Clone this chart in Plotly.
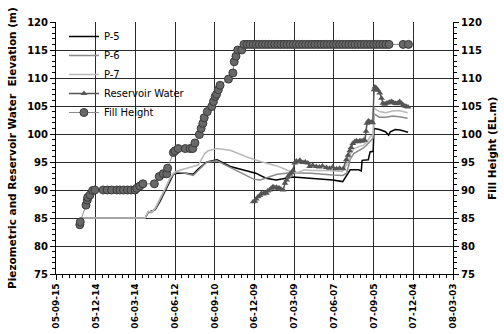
import plotly.graph_objects as go

# ---------------- data ----------------
tick_dates = ["2005-09-15", "2005-12-14", "2006-03-14", "2006-06-12", "2006-09-10", "2006-12-09",
              "2007-03-09", "2007-06-07", "2007-09-05", "2007-12-04", "2008-03-03"]
tick_labels = ["05-09-15", "05-12-14", "06-03-14", "06-06-12", "06-09-10", "06-12-09",
               "07-03-09", "07-06-07", "07-09-05", "07-12-04", "08-03-03"]
y_ticks = [75, 80, 85, 90, 95, 100, 105, 110, 115, 120]

p5_dates = ["2005-11-08", "2006-04-05", "2006-04-12", "2006-04-20", "2006-04-28", "2006-05-09",
            "2006-05-20", "2006-06-01", "2006-06-08", "2006-06-16", "2006-07-05", "2006-07-23",
            "2006-08-04", "2006-08-23", "2006-09-15", "2006-10-15", "2006-11-14", "2006-12-12",
            "2007-01-04", "2007-01-27", "2007-03-07", "2007-04-20", "2007-06-04", "2007-06-27",
            "2007-07-06", "2007-07-14", "2007-08-02", "2007-08-08", "2007-08-10", "2007-08-24",
            "2007-08-28", "2007-09-04", "2007-09-06", "2007-09-18", "2007-10-02", "2007-10-09",
            "2007-10-13", "2007-10-24", "2007-11-04", "2007-11-16", "2007-11-22"]
p5_values = [85.0, 85.0, 86.0, 86.2, 86.5, 88.0,
             89.8, 91.8, 92.8, 93.0, 93.0, 92.8,
             93.8, 95.0, 95.4, 94.2, 93.6, 93.0,
             92.1, 91.8, 92.3, 92.1, 91.8, 91.5,
             92.5, 93.6, 93.6, 93.4, 95.3, 95.4,
             96.8, 96.9, 101.0, 100.8, 100.4, 99.8,
             100.4, 100.8, 100.7, 100.4, 100.3]

p6_dates = ["2005-11-08", "2006-04-05", "2006-04-12", "2006-04-20", "2006-04-28", "2006-05-09",
            "2006-05-20", "2006-06-01", "2006-06-08", "2006-06-16", "2006-07-05", "2006-07-23",
            "2006-08-04", "2006-08-23", "2006-09-15", "2006-10-15", "2006-11-14", "2006-12-08",
            "2006-12-22", "2007-01-12", "2007-01-29", "2007-03-01", "2007-04-16", "2007-06-04",
            "2007-06-27", "2007-07-06", "2007-07-14", "2007-07-22", "2007-08-02", "2007-08-13",
            "2007-08-20", "2007-08-28", "2007-09-04", "2007-09-06", "2007-09-18", "2007-10-03",
            "2007-10-18", "2007-11-02", "2007-11-21"]
p6_values = [85.0, 85.0, 86.0, 86.0, 86.6, 88.2,
             90.0, 92.0, 92.8, 93.2, 93.0, 92.6,
             93.6, 95.0, 95.2, 94.0, 92.8, 91.9,
             91.8, 92.3, 92.8, 93.1, 93.0, 92.7,
             92.6, 93.0, 95.5, 96.5, 97.0, 97.5,
             98.0, 98.8, 99.3, 103.6, 103.0, 103.0,
             103.2, 103.1, 102.8]

p7_dates = ["2005-11-08", "2006-04-05", "2006-04-12", "2006-04-20", "2006-04-28", "2006-05-09",
            "2006-05-20", "2006-06-01", "2006-06-08", "2006-06-16", "2006-07-08", "2006-07-23",
            "2006-08-04", "2006-08-18", "2006-08-26", "2006-09-15", "2006-10-15", "2006-11-22",
            "2006-12-22", "2007-01-29", "2007-03-01", "2007-03-16", "2007-04-01", "2007-04-16",
            "2007-05-25", "2007-06-26", "2007-07-06", "2007-07-14", "2007-07-22", "2007-08-02",
            "2007-08-13", "2007-08-20", "2007-08-28", "2007-09-04", "2007-09-06", "2007-09-08",
            "2007-09-18", "2007-10-03", "2007-10-18", "2007-11-02", "2007-11-21"]
p7_values = [85.0, 85.0, 86.2, 86.1, 86.8, 88.4,
             90.2, 92.2, 93.0, 93.4, 93.8, 94.2,
             94.5, 96.5, 97.0, 97.4, 97.1, 95.9,
             95.1, 94.3, 93.3, 93.1, 93.6, 93.5,
             93.5, 93.3, 94.5, 96.3, 97.4, 97.7,
             98.0, 98.5, 99.5, 99.9, 104.8, 104.5,
             104.0, 103.8, 104.1, 104.2, 103.8]

res_dates = ["2006-12-06", "2006-12-10", "2006-12-13", "2006-12-17", "2006-12-21", "2006-12-25",
             "2006-12-29", "2007-01-01", "2007-01-05", "2007-01-08", "2007-01-12", "2007-01-16",
             "2007-01-20", "2007-01-24", "2007-01-28", "2007-02-01", "2007-02-04", "2007-02-08",
             "2007-02-12", "2007-02-16", "2007-02-20", "2007-02-23", "2007-02-27", "2007-03-03",
             "2007-03-06", "2007-03-10", "2007-03-14", "2007-03-18", "2007-03-22", "2007-03-29",
             "2007-04-03", "2007-04-09", "2007-04-13", "2007-04-20", "2007-04-28", "2007-05-05",
             "2007-05-12", "2007-05-21", "2007-05-28", "2007-06-04", "2007-06-13", "2007-06-20",
             "2007-06-28", "2007-07-05", "2007-07-09", "2007-07-13", "2007-07-16", "2007-07-20",
             "2007-07-24", "2007-07-28", "2007-08-01", "2007-08-05", "2007-08-09", "2007-08-13",
             "2007-08-16", "2007-08-19", "2007-08-21", "2007-08-24", "2007-08-27", "2007-08-31",
             "2007-09-03", "2007-09-06", "2007-09-08", "2007-09-11", "2007-09-15", "2007-09-19",
             "2007-09-23", "2007-09-26", "2007-09-30", "2007-10-04", "2007-10-08", "2007-10-12",
             "2007-10-16", "2007-10-20", "2007-10-24", "2007-10-27", "2007-10-31", "2007-11-03",
             "2007-11-07", "2007-11-11", "2007-11-15", "2007-11-18", "2007-11-22"]
res_values = [87.9, 88.0, 88.4, 88.8, 89.0, 89.4,
              89.3, 89.5, 89.4, 89.8, 90.0, 90.3,
              90.6, 90.4, 90.5, 90.3, 90.3, 90.1,
              90.0, 91.2, 91.8, 92.4, 92.8, 93.1,
              93.5, 94.8, 95.2, 95.0, 95.3, 94.9,
              95.0, 94.8, 94.2, 94.4, 94.2, 94.1,
              94.3, 94.0, 93.9, 94.1, 93.8, 93.9,
              93.8, 95.4, 96.2, 97.0, 97.6, 98.3,
              98.6, 98.8, 98.6, 98.8, 98.7, 98.9,
              98.9, 100.5, 101.9, 102.3, 102.2, 102.1,
              102.0, 107.9, 108.4, 108.2, 107.8, 107.3,
              106.4, 105.5, 105.3, 105.5, 105.6, 105.7,
              105.8, 105.6, 105.5, 105.4, 105.6, 105.8,
              105.5, 105.2, 105.0, 104.9, 104.8]

fill_dates = ["2005-11-08", "2005-11-09", "2005-11-22", "2005-11-25", "2005-11-26", "2005-12-01",
              "2005-12-07", "2005-12-12", "2005-12-31", "2006-01-09", "2006-01-19", "2006-01-31",
              "2006-02-07", "2006-02-15", "2006-02-24", "2006-03-04", "2006-03-13", "2006-03-17",
              "2006-03-24", "2006-03-31", "2006-04-26", "2006-05-07", "2006-05-16", "2006-05-24",
              "2006-05-26", "2006-06-08", "2006-06-12", "2006-06-19", "2006-07-05", "2006-07-16",
              "2006-07-22", "2006-07-27", "2006-08-06", "2006-08-10", "2006-08-14", "2006-08-17",
              "2006-08-24", "2006-09-03", "2006-09-07", "2006-09-11", "2006-09-14", "2006-09-18",
              "2006-09-22", "2006-10-11", "2006-10-21", "2006-10-24", "2006-10-28", "2006-11-01",
              "2006-11-10", "2006-11-15", "2006-11-22", "2006-11-29", "2006-12-06", "2006-12-13",
              "2006-12-20", "2006-12-27", "2007-01-03", "2007-01-10", "2007-01-17", "2007-01-24",
              "2007-01-31", "2007-02-07", "2007-02-14", "2007-02-21", "2007-02-28", "2007-03-07",
              "2007-03-14", "2007-03-21", "2007-03-28", "2007-04-04", "2007-04-11", "2007-04-18",
              "2007-04-25", "2007-05-02", "2007-05-09", "2007-05-16", "2007-05-23", "2007-05-30",
              "2007-06-06", "2007-06-13", "2007-06-20", "2007-06-27", "2007-07-04", "2007-07-11",
              "2007-07-18", "2007-07-25", "2007-08-01", "2007-08-08", "2007-08-15", "2007-08-22",
              "2007-08-29", "2007-09-05", "2007-09-12", "2007-09-19", "2007-09-26", "2007-10-03",
              "2007-10-10", "2007-11-11", "2007-11-23"]
fill_values = [83.8, 84.3, 87.3, 88.2, 88.7, 89.1,
               89.9, 90.0, 90.0, 90.0, 90.0, 90.0,
               90.0, 90.0, 90.0, 90.0, 90.0, 90.3,
               90.7, 91.1, 91.1, 92.4, 92.9, 92.9,
               93.9, 96.7, 97.0, 97.4, 97.4, 97.4,
               97.4, 98.4, 99.9, 101.0, 101.9, 102.9,
               104.0, 104.9, 105.8, 106.7, 107.1, 107.9,
               108.7, 109.8, 110.9, 112.9, 113.9, 115.0,
               115.0, 116.0, 116.0, 116.0, 116.0, 116.0,
               116.0, 116.0, 116.0, 116.0, 116.0, 116.0,
               116.0, 116.0, 116.0, 116.0, 116.0, 116.0,
               116.0, 116.0, 116.0, 116.0, 116.0, 116.0,
               116.0, 116.0, 116.0, 116.0, 116.0, 116.0,
               116.0, 116.0, 116.0, 116.0, 116.0, 116.0,
               116.0, 116.0, 116.0, 116.0, 116.0, 116.0,
               116.0, 116.0, 116.0, 116.0, 116.0, 116.0,
               116.0, 116.0, 116.0]

# ---------------- figure ----------------
fig = go.Figure()
fig.add_trace(go.Scatter(x=p5_dates, y=p5_values, name="P-5", mode="lines",
                         line=dict(color="#000000", width=1.5)))
fig.add_trace(go.Scatter(x=p6_dates, y=p6_values, name="P-6", mode="lines",
                         line=dict(color="#8a8a8a", width=1.5)))
fig.add_trace(go.Scatter(x=p7_dates, y=p7_values, name="P-7", mode="lines",
                         line=dict(color="#b8b8b8", width=1.5)))
fig.add_trace(go.Scatter(x=res_dates, y=res_values, name="Reservoir Water", mode="lines+markers",
                         line=dict(color="#555555", width=1.5),
                         marker=dict(symbol="triangle-up", size=6, color="#555555")))
fig.add_trace(go.Scatter(x=fill_dates, y=fill_values, name="Fill Height", mode="lines+markers",
                         yaxis="y2",
                         line=dict(color="#8a8a8a", width=1),
                         marker=dict(symbol="circle", size=8, color="#686868",
                                     line=dict(color="#3a3a3a", width=1))))

tick_font = dict(family="DejaVu Sans", size=10, color="#000000")
grid_col = "#2a2a2a"
y_text = ["<b>%d</b>" % v for v in y_ticks]

fig.update_layout(
    width=504, height=334,
    margin=dict(l=56, r=51, t=22, b=60, autoexpand=False),
    paper_bgcolor="white", plot_bgcolor="white",
    showlegend=True,
    legend=dict(x=0.02, y=1.0, xanchor="left", yanchor="top",
                bgcolor="rgba(0,0,0,0)", borderwidth=0,
                font=dict(family="DejaVu Sans", size=10, color="#000000"),
                tracegroupgap=0),
    xaxis=dict(type="date", range=["2005-09-15", "2008-03-03"], automargin=False,
               tickmode="array", tickvals=tick_dates,
               ticktext=["<b>%s</b>" % t for t in tick_labels],
               tickangle=-90, tickfont=dict(family="DejaVu Sans", size=9, color="#000000"),
               showline=True, linecolor="#000000", linewidth=1,
               ticks="outside", ticklen=5, tickcolor="#000000",
               showgrid=True, gridcolor=grid_col, gridwidth=1,
               minor=dict(dtick=15 * 86400000, tick0="2005-09-15", ticks="outside",
                          ticklen=3, tickcolor="#000000", showgrid=False),
               zeroline=False),
    yaxis=dict(range=[75, 120], automargin=False, tickmode="array", tickvals=y_ticks, ticktext=y_text,
               tickfont=tick_font,
               showline=True, linecolor="#000000", linewidth=1,
               ticks="outside", ticklen=5, tickcolor="#000000",
               showgrid=True, gridcolor=grid_col, gridwidth=1,
               minor=dict(dtick=1, tick0=75, ticks="outside", ticklen=3, tickcolor="#000000", showgrid=False),
               zeroline=False),
    yaxis2=dict(range=[75, 120], automargin=False, tickmode="array", tickvals=y_ticks, ticktext=y_text,
                tickfont=tick_font,
                overlaying="y", side="right",
                showline=True, linecolor="#000000", linewidth=1,
                ticks="outside", ticklen=5, tickcolor="#000000",
                showgrid=False,
                minor=dict(dtick=1, tick0=75, ticks="outside", ticklen=3, tickcolor="#000000", showgrid=False),
                zeroline=False),
    shapes=[dict(type="rect", xref="paper", yref="paper", x0=0.003, x1=0.358, y0=0.655, y1=0.997,
                 fillcolor="white", line=dict(width=0), layer="between")],
    annotations=[
        dict(text="<b>Piezometric and Reservoir Water  Elevation (m)</b>", xref="paper", yref="paper",
             x=-0.111, y=0.5, xanchor="center", yanchor="middle", textangle=-90, showarrow=False,
             font=dict(family="DejaVu Sans", size=10.5, color="#000000")),
        dict(text="<b>Fill Height (EL.m)</b>", xref="paper", yref="paper",
             x=1.098, y=0.5, xanchor="center", yanchor="middle", textangle=-90, showarrow=False,
             font=dict(family="DejaVu Sans", size=10.5, color="#000000")),
    ],
)

fig.write_html("out.html", config={"displayModeBar": False},
               post_script="document.body.style.margin='0px';")
